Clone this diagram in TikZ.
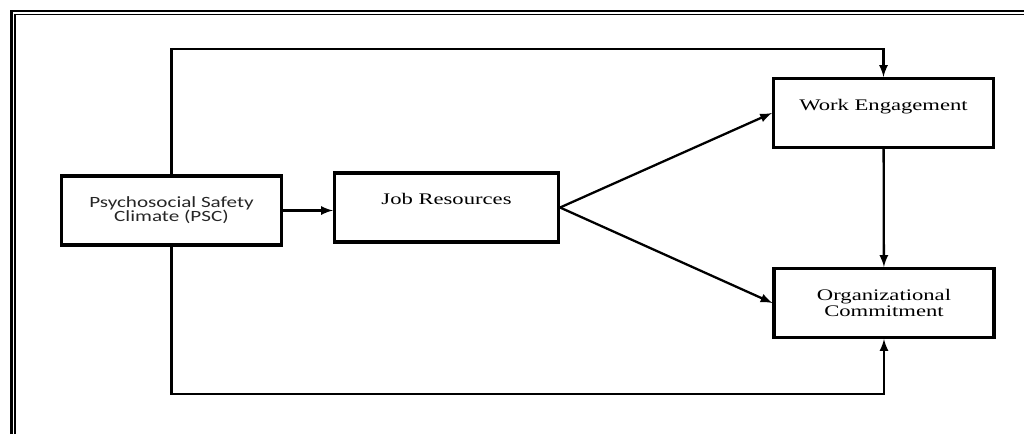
\documentclass[tikz,border=0pt]{standalone}
\usepackage{fontspec}
\setmainfont[FakeStretch=1.4]{Liberation Serif}
\newfontfamily\pscfont[FakeStretch=1.35]{Carlito}
\usetikzlibrary{arrows}

\begin{document}
\begin{tikzpicture}[>=latex,x=0.02cm,y=-0.02cm,
   box/.style={draw,line width=1.8pt,minimum width=4.4cm,minimum height=1.38cm,
      inner sep=0pt,align=center,font=\fontsize{9.2}{8}\selectfont},
   up/.style={text height=0.7em,text depth=1em},
   link/.style={->,line width=1.3pt}]
   \useasboundingbox (0,0) rectangle (1024,434);
   % frame
   \draw[line width=1.4pt] (11.5,434) -- (11.5,11) -- (1024,11);
   \draw[line width=0.6pt] (15,434) -- (15,14.5) -- (1024,14.5);

   \node[box,font=\pscfont\fontsize{8.9}{8}\selectfont,text=black!85] (psc) at (171.5,210.5) {Psychosocial Safety\\Climate (PSC)};
   \node[box,up,minimum width=4.48cm] (jr) at (446.5,207.5) {Job Resources};
   \node[box,up] (we) at (883.5,113) {Work Engagement};
   \node[box] (oc) at (884,303) {Organizational\\Commitment};

   \draw[link] (psc.east) -- (psc.east -| jr.west);
   \draw[link] (jr.east) -- (we.west);
   \draw[link] (jr.east) -- (oc.west);
   \draw[link] (we) -- (oc);
   \draw[link] (psc.north) -- (psc.north |- 0,49) -- (we.north |- 0,49) -- (we.north);
   \draw[link] (psc.south) -- (psc.south |- 0,394) -- (oc.south |- 0,394) -- (oc.south);
\end{tikzpicture}
\end{document}
